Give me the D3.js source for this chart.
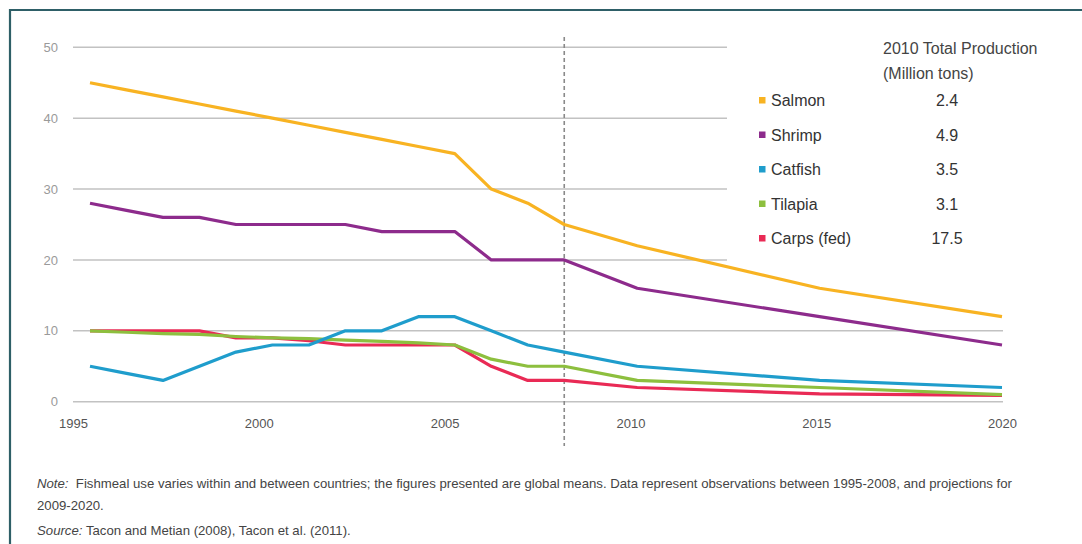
<!DOCTYPE html>
<html>
<head>
<meta charset="utf-8">
<script src="https://cdn.jsdelivr.net/npm/d3@7"></script>
<style>
  html, body { margin: 0; padding: 0; background: #fff; }
  svg { display: block; font-family: "Liberation Sans", Arial, sans-serif; }
</style>
</head>
<body>
<svg id="chart" width="1082" height="544"></svg>
<script>
// ---------- data ----------
const histYears = [1995,1996,1997,1998,1999,2000,2001,2002,2003,2004,2005,2006,2007,2008];
const projYears = [2010, 2015, 2020];
const years = histYears.concat(projYears);

const salmon  = [45,44,43,42,41,40,39,38,37,36,35,30,28,25, 22,16,12];
const shrimp  = [28,27,26,26,25,25,25,25,24,24,24,20,20,20, 16,12,8];
const catfish = [5,4,3,5,7,8,8,10,10,12,12,10,8,7, 5,3,2];
const tilapia = [10,9.8,9.6,9.5,9.2,9,8.9,8.7,8.5,8.3,8,6,5,5, 3,2,1];
const carps   = [10,10,10,10,9,9,8.6,8,8,8,8,5,3,3, 2,1.1,0.9];

const seriesNames  = ["Salmon","Shrimp","Catfish","Tilapia","Carps (fed)"];
const production2010 = ["2.4","4.9","3.5","3.1","17.5"];
const seriesColors = ["#f8b322","#8d2b8c","#1f9dcc","#8dbf3e","#e92a55"];
const seriesValues = [salmon, shrimp, catfish, tilapia, carps];

const xTickLabels = [1995,2000,2005,2010,2015,2020];
const yTickLabels = [0,10,20,30,40,50];
const dividerYear = 2008;

const legendTitle = ["2010 Total Production", "(Million tons)"];
const noteLines = [
  {lead: "Note:", text: "  Fishmeal use varies within and between countries; the figures presented are global means. Data represent observations between 1995-2008, and projections for"},
  {lead: "", text: "2009-2020."},
  {lead: "Source:", text: " Tacon and Metian (2008), Tacon et al. (2011)."}
];

// ---------- layout ----------
const svg = d3.select("#chart");
const x = d3.scaleLinear().domain([1995, 2020]).range([90, 1002]);
const xLabel = d3.scaleLinear().domain([1995, 2020]).range([73, 1002]);
const y = d3.scaleLinear().domain([0, 50]).range([401.7, 47.3]);
const gridLeft = 73, gridRight = 1003;

// frame
svg.append("path")
  .attr("d", "M10,544 L10,10 L1082,10")
  .attr("fill", "none").attr("stroke", "#2e5f67").attr("stroke-width", 2.2);

// gridlines
svg.append("g").selectAll("line").data(yTickLabels).join("line")
  .attr("x1", gridLeft).attr("x2", gridRight)
  .attr("y1", d => y(d)).attr("y2", d => y(d))
  .attr("stroke", "#c2c2c2").attr("stroke-width", 1.4);

// y labels
const yAxis = d3.axisLeft(y).tickValues(yTickLabels).tickSize(0).tickPadding(0).tickFormat(d3.format("d"));
const gy = svg.append("g").attr("transform", "translate(58,0)").call(yAxis);
gy.select(".domain").remove();
gy.selectAll("text").attr("fill", "#9a9a9a").attr("font-size", 13).attr("font-family", "Liberation Sans, Arial, sans-serif");

// x labels
const xAxis = d3.axisBottom(xLabel).tickValues(xTickLabels).tickSize(0).tickPadding(0).tickFormat(d3.format("d"));
const gx = svg.append("g").attr("transform", "translate(0,419)").call(xAxis);
gx.select(".domain").remove();
gx.selectAll("text").attr("fill", "#555").attr("font-size", 13).attr("font-family", "Liberation Sans, Arial, sans-serif");

// legend background (covers upper gridlines)
svg.append("rect").attr("x", 727).attr("y", 20).attr("width", 350).attr("height", 245).attr("fill", "#fff");

// divider (dashed)
svg.append("line")
  .attr("x1", x(dividerYear)).attr("x2", x(dividerYear))
  .attr("y1", 37).attr("y2", 446)
  .attr("stroke", "#8a8a8a").attr("stroke-width", 1.6).attr("stroke-dasharray", "4,3");

// lines (draw bottom series first)
const line = d3.line().x(d => x(d[0])).y(d => y(d[1]));
const order = [4, 3, 2, 1, 0];
svg.append("g").selectAll("path").data(order).join("path")
  .attr("d", i => line(years.map((yr, k) => [yr, seriesValues[i][k]])))
  .attr("fill", "none")
  .attr("stroke", i => seriesColors[i])
  .attr("stroke-width", 3.2)
  .attr("stroke-linejoin", "round");

// legend
const lg = svg.append("g");
lg.selectAll("text.title").data(legendTitle).join("text")
  .attr("class", "title")
  .attr("x", 883).attr("y", (d, i) => 54 + i * 25)
  .attr("font-size", 16).attr("fill", "#444").text(d => d);

const rowY = i => 100 + i * 34.5;
const rows = lg.selectAll("g.row").data(seriesNames).join("g").attr("class", "row");
rows.append("rect")
  .attr("x", 759).attr("y", (d, i) => rowY(i) - 3)
  .attr("width", 6.5).attr("height", 6.5)
  .attr("fill", (d, i) => seriesColors[i]);
rows.append("text")
  .attr("x", 771).attr("y", (d, i) => rowY(i) + 6)
  .attr("font-size", 16).attr("fill", "#333").text(d => d);
rows.append("text")
  .attr("x", 947).attr("y", (d, i) => rowY(i) + 6)
  .attr("text-anchor", "middle")
  .attr("font-size", 16).attr("fill", "#333").text((d, i) => production2010[i]);

// notes
const noteY = [488, 510, 535];
const nt = svg.append("g").selectAll("text").data(noteLines).join("text")
  .attr("x", 37).attr("y", (d, i) => noteY[i])
  .attr("font-size", 13.2).attr("fill", "#444").attr("xml:space", "preserve");
nt.append("tspan").attr("font-style", "italic").text(d => d.lead);
nt.append("tspan").text(d => d.text);
</script>
</body>
</html>
